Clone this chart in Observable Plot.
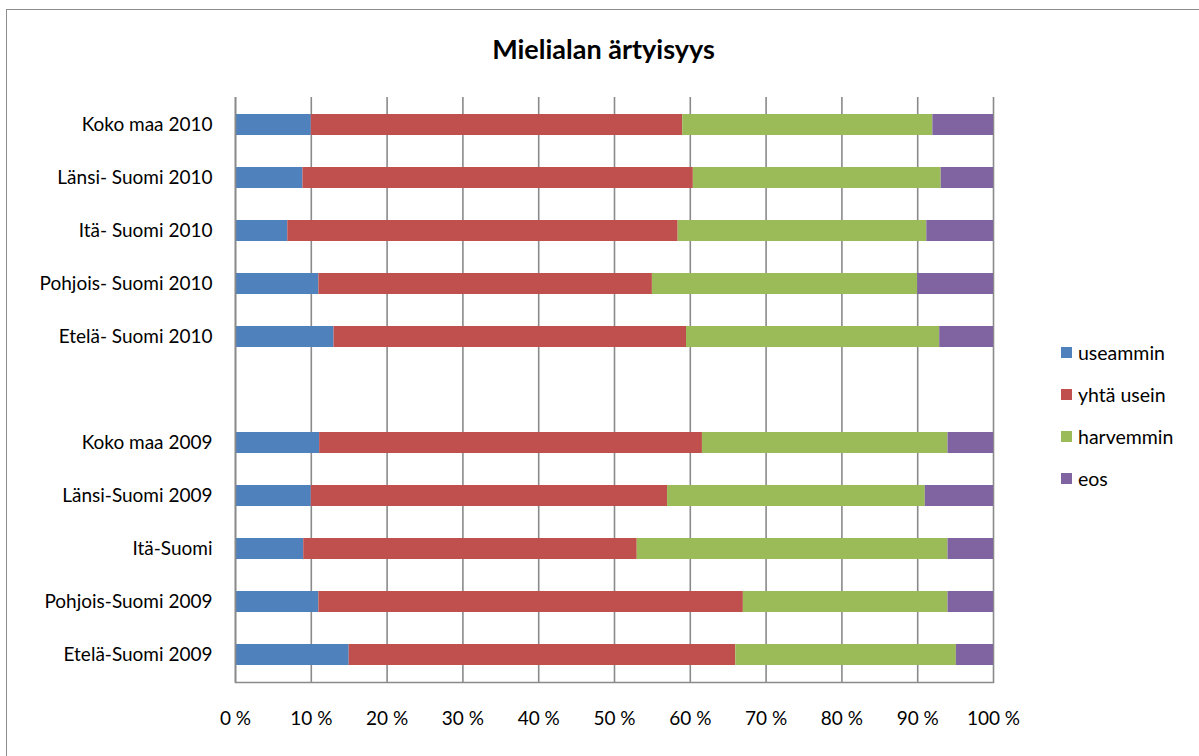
<!DOCTYPE html>
<html>
<head>
<meta charset="utf-8">
<script src="https://cdn.jsdelivr.net/npm/d3@7"></script>
<script src="https://cdn.jsdelivr.net/npm/@observablehq/plot@0.6"></script>
<style>
  html, body { margin: 0; padding: 0; background: #fff; }
  #wrap { position: relative; width: 1199px; height: 756px; overflow: hidden; font-family: Lato, "Open Sans", sans-serif; }
  #frame { position: absolute; left: 6px; top: 9px; width: 1300px; height: 900px; border: 1px solid #8c8c8c; box-sizing: border-box; }
  #title { position: absolute; left: 0; width: 1207px; top: 32px; text-align: center; font-size: 27px; line-height: 34px; font-weight: bold; color: #000; }
  #chart { position: absolute; left: 0; top: 0; }
  #legend { position: absolute; left: 1061px; top: 331px; font-size: 19.5px; color: #000; }
  .li { display: flex; align-items: center; height: 42px; }
  .sw { width: 11px; height: 11px; margin-right: 6px; }
</style>
</head>
<body>
<div id="wrap">
  <div id="frame"></div>
  <div id="chart"></div>
  <div id="title">Mielialan ärtyisyys</div>
  <div id="legend"></div>
</div>
<script>
const categories = ["Koko maa 2010", "Länsi- Suomi 2010", "Itä- Suomi 2010", "Pohjois- Suomi 2010", "Etelä- Suomi 2010", " ",
  "Koko maa 2009", "Länsi-Suomi 2009", "Itä-Suomi", "Pohjois-Suomi 2009", "Etelä-Suomi 2009"];
const seriesNames = ["useammin", "yhtä usein", "harvemmin", "eos"];
const seriesColors = ["#4F81BD", "#C0504D", "#9BBB59", "#8064A2"];
const useammin  = [10, 8.9, 6.9, 11, 13, null, 11.1, 10, 9, 11, 15];
const yhtaUsein = [49, 51.5, 51.5, 44, 46.5, null, 50.5, 47, 44, 56, 51];
const harvemmin = [33, 32.7, 32.8, 35, 33.4, null, 32.4, 34, 41, 27, 29.1];
const eos       = [8, 6.9, 8.8, 10, 7.1, null, 6, 9, 6, 6, 4.9];
const xTicks = [0, 10, 20, 30, 40, 50, 60, 70, 80, 90, 100];

const seriesValues = [useammin, yhtaUsein, harvemmin, eos];
const rows = [];
categories.forEach((c, i) => {
  seriesValues.forEach((vals, s) => {
    if (vals[i] != null) rows.push({category: c, series: seriesNames[s], value: vals[i]});
  });
});

const chart = Plot.plot({
  width: 1199,
  height: 756,
  marginLeft: 235,
  marginRight: 206,
  marginTop: 97,
  marginBottom: 74,
  style: {fontFamily: "Lato, 'Open Sans', sans-serif", fontSize: "19px", color: "#000", background: "transparent"},
  x: {domain: [0, 100], ticks: xTicks, label: null},
  y: {domain: categories, paddingInner: 0.6, paddingOuter: 0.3, label: null},
  color: {domain: seriesNames, range: seriesColors},
  marks: [
    Plot.gridX(xTicks, {stroke: "#8a8a8a", strokeOpacity: 1, strokeWidth: 1.6}),
    Plot.barX(rows, {y: "category", x: "value", fill: "series", order: seriesNames, inset: 0}),
    Plot.ruleX([0], {stroke: "#8a8a8a", strokeWidth: 1.6}),
    Plot.frame({anchor: "bottom", stroke: "#8a8a8a", strokeWidth: 1.6}),
    Plot.axisX(xTicks, {anchor: "bottom", tickSize: 0, tickPadding: 29, tickFormat: d => d + " %", fontSize: 19}),
    Plot.axisY({anchor: "left", tickSize: 0, tickPadding: 23, fontSize: 19})
  ]
});
document.getElementById("chart").appendChild(chart);

const legend = document.getElementById("legend");
seriesNames.forEach((n, i) => {
  const d = document.createElement("div");
  d.className = "li";
  const sw = document.createElement("span");
  sw.className = "sw";
  sw.style.background = seriesColors[i];
  const t = document.createElement("span");
  t.textContent = n;
  d.appendChild(sw); d.appendChild(t);
  legend.appendChild(d);
});
</script>
</body>
</html>
